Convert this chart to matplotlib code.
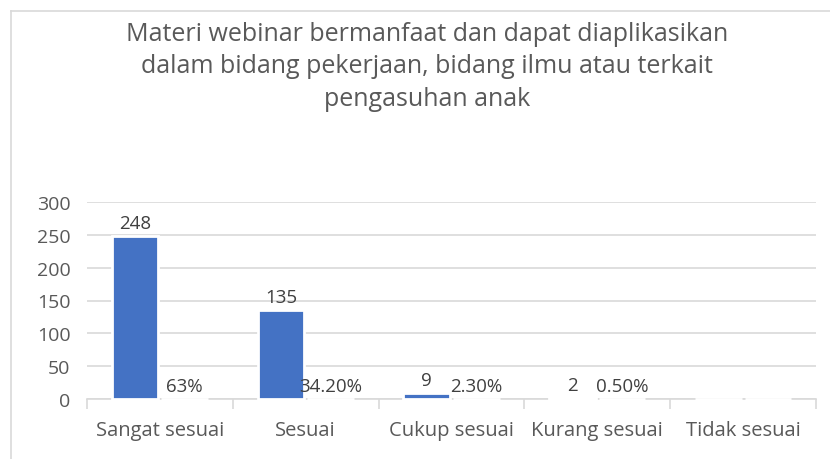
import matplotlib.pyplot as plt
import numpy as np

# ------------------------------------
# Data
# ------------------------------------
categories = ["Sangat sesuai", "Sesuai", "Cukup sesuai", "Kurang sesuai", "Tidak sesuai"]
counts = [248, 135, 9, 2, 0]
count_labels = ["248", "135", "9", "2", ""]
percents = [0.63, 0.342, 0.023, 0.005, 0]
percent_labels = ["63%", "34.20%", "2.30%", "0.50%", ""]

title = ("Materi webinar bermanfaat dan dapat diaplikasikan\n"
         "dalam bidang pekerjaan, bidang ilmu atau terkait\n"
         "pengasuhan anak")

plt.rcParams['font.family'] = ['Open Sans', 'DejaVu Sans']
text_col = '#595959'
grid_col = '#d9d9d9'

fig = plt.figure(figsize=(8.3, 4.6), dpi=100)
ax = fig.add_axes([87 / 830, 1 - 400 / 460, (816 - 87) / 830, (400 - 203) / 460])

x = np.arange(len(categories))
w = 0.32
off = 0.17
b1 = ax.bar(x - off, counts, w, color='#4472c4', edgecolor='white',
            linewidth=2, zorder=3, clip_on=False)
b2 = ax.bar(x + off, percents, w, color='#ed7d31', edgecolor='white',
            linewidth=2, zorder=3, clip_on=False)

for rect, lab in zip(b1, count_labels):
    ax.text(rect.get_x() + rect.get_width() / 2, rect.get_height() + 6, lab,
            ha='center', va='bottom', fontsize=13.5, color='#404040', zorder=4)
for rect, lab in zip(b2, percent_labels):
    ax.text(rect.get_x() + rect.get_width() / 2, rect.get_height() + 6, lab,
            ha='center', va='bottom', fontsize=13.5, color='#404040', zorder=4)

ax.set_xlim(-0.5, len(categories) - 0.5)
ax.set_ylim(0, 300)
ax.set_yticks(range(0, 301, 50))
ax.yaxis.grid(True, color=grid_col, linewidth=1.2, zorder=0)
ax.set_xticks(x)
ax.set_xticklabels(categories)
ax.set_xticks(np.arange(-0.5, len(categories), 1), minor=True)
ax.tick_params(axis='x', which='major', length=0, pad=15, labelsize=14.5, labelcolor=text_col)
ax.tick_params(axis='x', which='minor', length=7, color=grid_col, width=1.2)
ax.tick_params(axis='y', length=0, pad=12, labelsize=14, labelcolor=text_col)

for s in ['top', 'right', 'left']:
    ax.spines[s].set_visible(False)
ax.spines['bottom'].set_color(grid_col)
ax.spines['bottom'].set_linewidth(1.2)

fig.text(427 / 830, 1 - 67 / 460, title, ha='center', va='center', fontsize=18,
         color=text_col, linespacing=1.4)

# chart area border (top and left visible in the crop)
fig.add_artist(plt.Line2D([10.5 / 830, 1], [1 - 12 / 460, 1 - 12 / 460], color=grid_col, lw=1.2))
fig.add_artist(plt.Line2D([10.5 / 830, 10.5 / 830], [0, 1 - 12 / 460], color=grid_col, lw=1.2))

fig.savefig('out.png', dpi=100)
